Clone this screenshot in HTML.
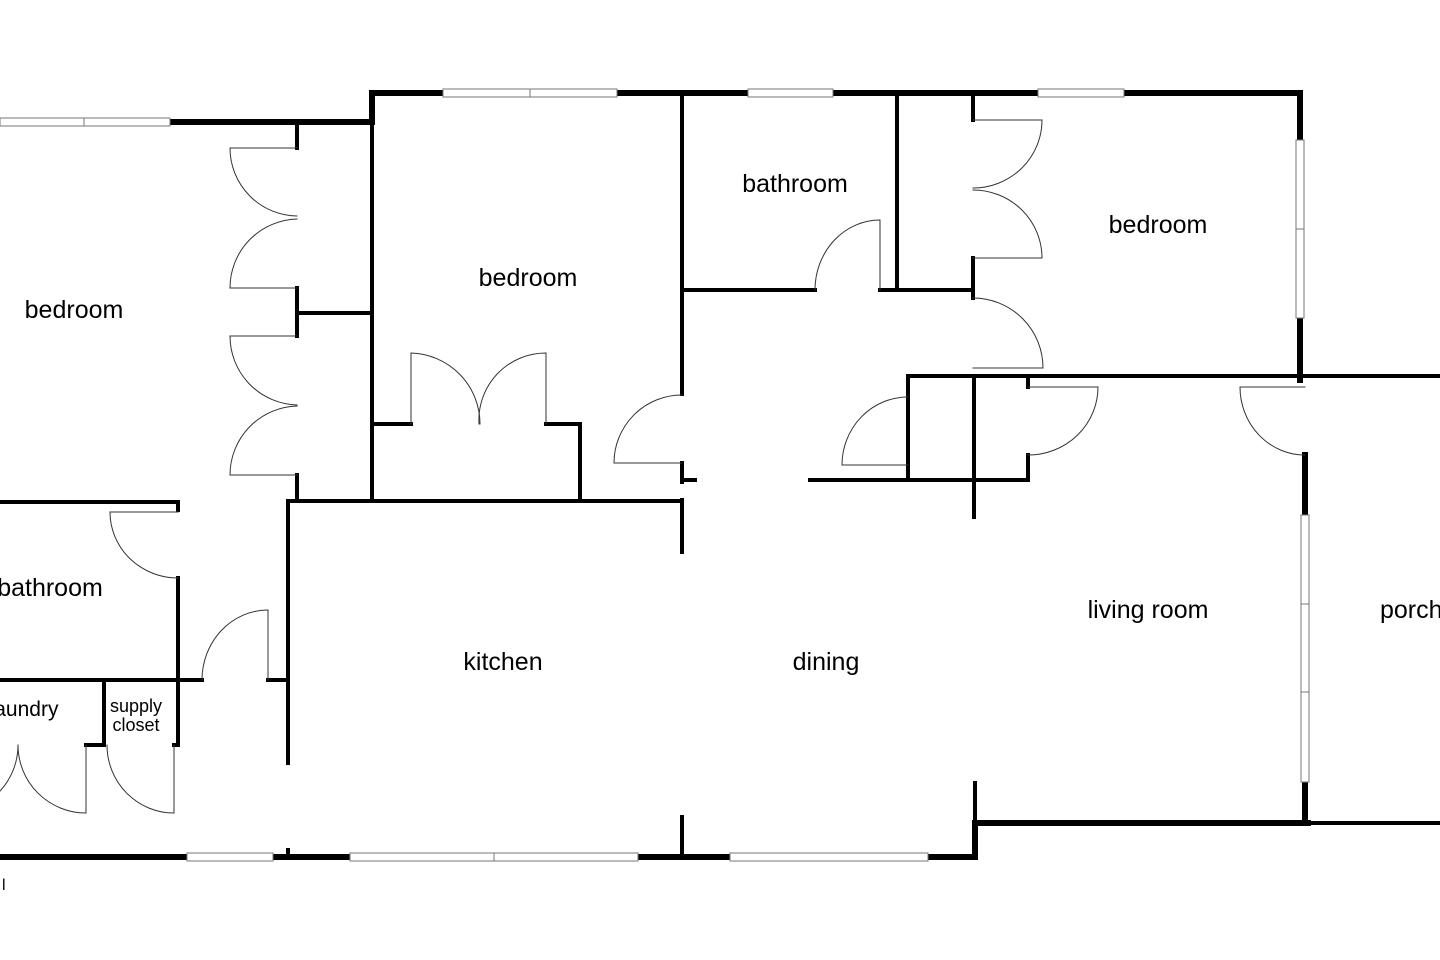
<!DOCTYPE html>
<html><head><meta charset="utf-8"><style>html,body{margin:0;padding:0;background:#fff}svg{display:block}</style></head>
<body>
<svg width="1440" height="960" viewBox="0 0 1440 960" xmlns="http://www.w3.org/2000/svg">
<rect width="1440" height="960" fill="#fff"/>
<g stroke="#000" stroke-linecap="square" fill="none">
<g stroke-width="6">
<path d="M170 122 H372 V93 H1300 V375"/>
<path d="M1300 375 V380"/>
<path d="M0 857 H975 V823 H1308"/>
<path d="M1305 455 V515 M1305 782 V823"/>
</g>
<g stroke="#777" stroke-width="1" fill="#fff">
<rect x="0" y="118" width="170" height="8"/><line x1="84" y1="118" x2="84" y2="126"/>
<rect x="443" y="89" width="174" height="8"/><line x1="530" y1="89" x2="530" y2="97"/>
<rect x="748" y="89" width="85" height="8"/>
<rect x="1038" y="89" width="86" height="8"/>
<rect x="1296" y="140" width="8" height="178"/><line x1="1296" y1="229" x2="1304" y2="229"/>
<rect x="1301" y="515" width="8" height="267"/><line x1="1301" y1="604" x2="1309" y2="604"/><line x1="1301" y1="692" x2="1309" y2="692"/>
<rect x="187" y="853" width="86" height="8"/>
<rect x="350" y="853" width="288" height="8"/><line x1="494" y1="853" x2="494" y2="861"/>
<rect x="730" y="853" width="198" height="8"/>
</g>
<g stroke-width="4">
<path d="M297 122 V148 M297 288 V336 M297 313 H372 M297 475 V500"/>
<path d="M372 93 V500 M288 501 H682 M288 501 V763"/>
<path d="M372 424 H411 M546 424 H580 V500"/>
<path d="M682 93 V394 M682 463 V482 M682 480 H695 M682 500 V552 M682 817 V857"/>
<path d="M682 290 H815 M880 290 H973 M897 93 V290"/>
<path d="M973 93 V120 M973 258 V298"/>
<path d="M908 465 V376 H1440"/>
<path d="M908 465 V480 M810 480 H1028 M1028 376 V387 M1028 455 V480"/>
<path d="M974 376 V517 M975 783 V857"/>
<path d="M1308 823 H1440"/>
<path d="M0 502 H178 V510 M178 578 V745 M174 745 H178"/>
<path d="M0 680 H202 M268 680 H288"/>
<path d="M104 680 V745 M86 745 H104"/>
<path d="M288 850 V857"/>
</g>
<g stroke="#333" stroke-width="1">
<path d="M297 148 H230 A68 68 0 0 0 297 216"/>
<path d="M297 288 H230 A69 69 0 0 1 297 219"/>
<path d="M297 336 H230 A69 69 0 0 0 297 405"/>
<path d="M297 475 H230 A69 69 0 0 1 297 406"/>
<path d="M411 424 V353 A71 71 0 0 1 480 424"/>
<path d="M546 424 V353 A67 67 0 0 0 479 424"/>
<path d="M682 463 H614 A68 68 0 0 1 682 395"/>
<path d="M880 290 V220 A65 70 0 0 0 815 290"/>
<path d="M973 120 H1042 A69 68 0 0 1 973 188"/>
<path d="M973 258 H1042 A69 68 0 0 0 973 190"/>
<path d="M973 298 A70 70 0 0 1 1043 368 H973"/>
<path d="M908 397 A66 68 0 0 0 842 465 H908"/>
<path d="M1028 387 H1098 A70 68 0 0 1 1028 455"/>
<path d="M1305 387 H1240 A65 68 0 0 0 1305 455"/>
<path d="M268 680 V610 A66 70 0 0 0 202 680"/>
<path d="M178 512 H110 A68 66 0 0 0 178 578"/>
<path d="M174 745 V813 A67 68 0 0 1 107 745"/>
<path d="M86 745 V813 A68 68 0 0 1 18 745"/>
<path d="M-50 745 V813 A68 68 0 0 0 18 745"/>
</g>
</g>
<g font-family="Liberation Sans, Arial, sans-serif" font-size="25" fill="#000" text-anchor="middle">
<text x="74" y="318">bedroom</text>
<text x="528" y="286">bedroom</text>
<text x="795" y="192">bathroom</text>
<text x="1158" y="233">bedroom</text>
<text x="50" y="596">bathroom</text>
<text x="24" y="716" font-size="21">laundry</text>
<text x="136" y="712" font-size="18">supply</text>
<text x="136" y="731" font-size="18">closet</text>
<text x="503" y="670">kitchen</text>
<text x="826" y="670">dining</text>
<text x="1148" y="618">living room</text>
<text x="1380" y="618" text-anchor="start">porch</text>
<text x="2" y="890" font-size="16" text-anchor="start">l</text>
</g>
</svg>
</body></html>
